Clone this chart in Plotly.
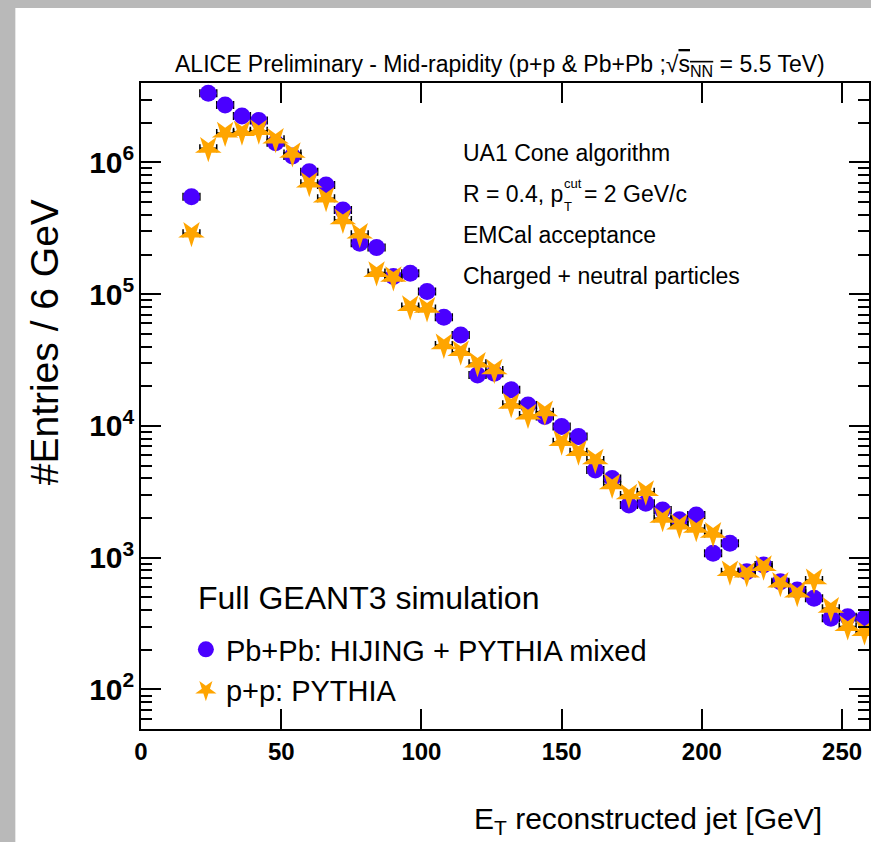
import plotly.graph_objects as go

# ---- data (bin centres, 6 GeV bins) ----
et_centres = [18, 24, 30, 36, 42, 48, 54, 60, 66, 72, 78, 84, 90, 96, 102, 108, 114, 120,
              126, 132, 138, 144, 150, 156, 162, 168, 174, 180, 186, 192, 198, 204, 210,
              216, 222, 228, 234, 240, 246, 252, 258]
bin_half_width = [3] * len(et_centres)

pbpb_entries = [5.5e5, 3.35e6, 2.73e6, 2.25e6, 2.08e6, 1.41e6, 1.12e6, 8.5e5, 6.75e5, 4.36e5,
                2.44e5, 2.26e5, 1.36e5, 1.44e5, 1.05e5, 6.68e4, 4.9e4, 2.44e4, 2.51e4, 1.88e4,
                1.44e4, 1.18e4, 9.9e3, 8.3e3, 4.64e3, 4.0e3, 2.51e3, 2.59e3, 2.3e3, 1.94e3,
                2.11e3, 1.08e3, 1.29e3, 783, 881, 658, 569, 492, 347, 357, 347]
pp_entries = [2.9e5, 1.28e6, 1.67e6, 1.71e6, 1.74e6, 1.50e6, 1.17e6, 6.95e5, 5.35e5, 3.66e5,
              2.85e5, 1.46e5, 1.34e5, 8.05e4, 7.8e4, 4.12e4, 3.66e4, 2.99e4, 2.66e4, 1.46e4,
              1.21e4, 1.28e4, 7.6e3, 6.38e3, 5.52e3, 3.57e3, 2.99e3, 3.17e3, 1.99e3, 1.77e3,
              1.67e3, 1.53e3, 783, 762, 855, 640, 537, 678, 413, 300, 275]

series_names = ["Pb+Pb: HIJING + PYTHIA mixed", "p+p: PYTHIA"]
x_ticks = [0, 50, 100, 150, 200, 250]

# ---- layout geometry (pixels) ----
W, H = 871, 842
L, R, T, B = 141, 0, 83, 113
PW, PH = W - L - R, H - T - B


def px2x(px):
    return (px - L) / PW


def py2y(py):
    return (H - B - py) / PH


FONT = "Liberation Sans, Arial, sans-serif"
BLUE = "#4a00ff"
ORANGE = "#ffa500"

fig = go.Figure()
err = dict(type="data", array=bin_half_width, symmetric=True, color="black",
           thickness=1.5, width=4)

fig.add_trace(go.Scatter(
    x=et_centres, y=pbpb_entries, mode="markers", name=series_names[0],
    marker=dict(symbol="circle", size=17, color=BLUE, line=dict(width=0)),
    error_x=err))
fig.add_trace(go.Scatter(
    x=et_centres, y=pp_entries, mode="markers", name=series_names[1],
    marker=dict(symbol="star", angle=180, size=20, color=ORANGE, line=dict(width=0)),
    error_x=err))

fig.update_xaxes(
    range=[0, 259.6], tickvals=x_ticks, ticks="inside", ticklen=20, tickwidth=1.5,
    tickcolor="black", showline=True, linecolor="black", linewidth=2, mirror="allticks",
    showgrid=False, zeroline=False,
    tickfont=dict(family=FONT, size=24, color="black", weight="bold"))
fig.update_yaxes(
    type="log", range=[1.700, 6.603], dtick=1, exponentformat="power", showexponent="all",
    ticks="inside", ticklen=20, tickwidth=1.5, tickcolor="black",
    minor=dict(ticks="inside", ticklen=11, tickwidth=1.5, tickcolor="black", dtick="D1",
               showgrid=False),
    showline=True, linecolor="black", linewidth=2, mirror="allticks",
    showgrid=False, zeroline=False, ticklabelstandoff=0,
    tickfont=dict(family=FONT, size=24, color="black", weight="bold"))

annotations = [
    dict(x=px2x(501), y=py2y(66), xanchor="center", yanchor="middle",
         text="ALICE Preliminary - Mid-rapidity (p+p &amp; Pb+Pb ;√<span style='text-decoration:overline'>s<sub>NN</sub></span> = 5.5 TeV)",
         font=dict(family=FONT, size=23, color="black")),
    dict(x=px2x(44), y=py2y(342), xanchor="center", yanchor="middle", textangle=-90,
         text="#Entries / 6 GeV", font=dict(family=FONT, size=39, color="black")),
    dict(x=px2x(826), y=py2y(820), xanchor="right", yanchor="middle",
         text="E<sub>T</sub> reconstructed jet [GeV]",
         font=dict(family=FONT, size=30, color="black")),
    dict(x=px2x(462), y=py2y(153), xanchor="left", yanchor="middle",
         text="UA1 Cone algorithm", font=dict(family=FONT, size=23, color="black")),
    dict(x=px2x(462), y=py2y(194), xanchor="left", yanchor="middle",
         text="R = 0.4, p", font=dict(family=FONT, size=23, color="black")),
    dict(x=px2x(564), y=py2y(183), xanchor="left", yanchor="middle", borderpad=0,
         text="cut", font=dict(family=FONT, size=13, color="black")),
    dict(x=px2x(564), y=py2y(206), xanchor="left", yanchor="middle", borderpad=0,
         text="T", font=dict(family=FONT, size=13, color="black")),
    dict(x=px2x(583), y=py2y(194), xanchor="left", yanchor="middle",
         text="= 2 GeV/c", font=dict(family=FONT, size=23, color="black")),
    dict(x=px2x(462), y=py2y(235), xanchor="left", yanchor="middle",
         text="EMCal acceptance", font=dict(family=FONT, size=23, color="black")),
    dict(x=px2x(462), y=py2y(276), xanchor="left", yanchor="middle",
         text="Charged + neutral particles", font=dict(family=FONT, size=23, color="black")),
    dict(x=px2x(196), y=py2y(598), xanchor="left", yanchor="middle",
         text="Full GEANT3 simulation", font=dict(family=FONT, size=32, color="black")),
]
for a in annotations:
    a.update(xref="paper", yref="paper", showarrow=False)

fig.update_layout(
    width=W, height=H, margin=dict(l=L, r=R, t=T, b=B, pad=0),
    paper_bgcolor="#b9b9b9", plot_bgcolor="white",
    annotations=annotations,
    shapes=[dict(type="rect", xref="paper", yref="paper", layer="below",
                 x0=px2x(15), x1=px2x(W + 5), y0=py2y(H + 5), y1=py2y(8),
                 fillcolor="white", line=dict(width=0))],
    showlegend=True,
    legend=dict(x=px2x(186), y=py2y(624), xanchor="left", yanchor="top",
                bgcolor="rgba(0,0,0,0)", borderwidth=0, itemwidth=30,
                font=dict(family=FONT, size=29, color="black"), tracegroupgap=0),
)

fig.write_html("out.html")
